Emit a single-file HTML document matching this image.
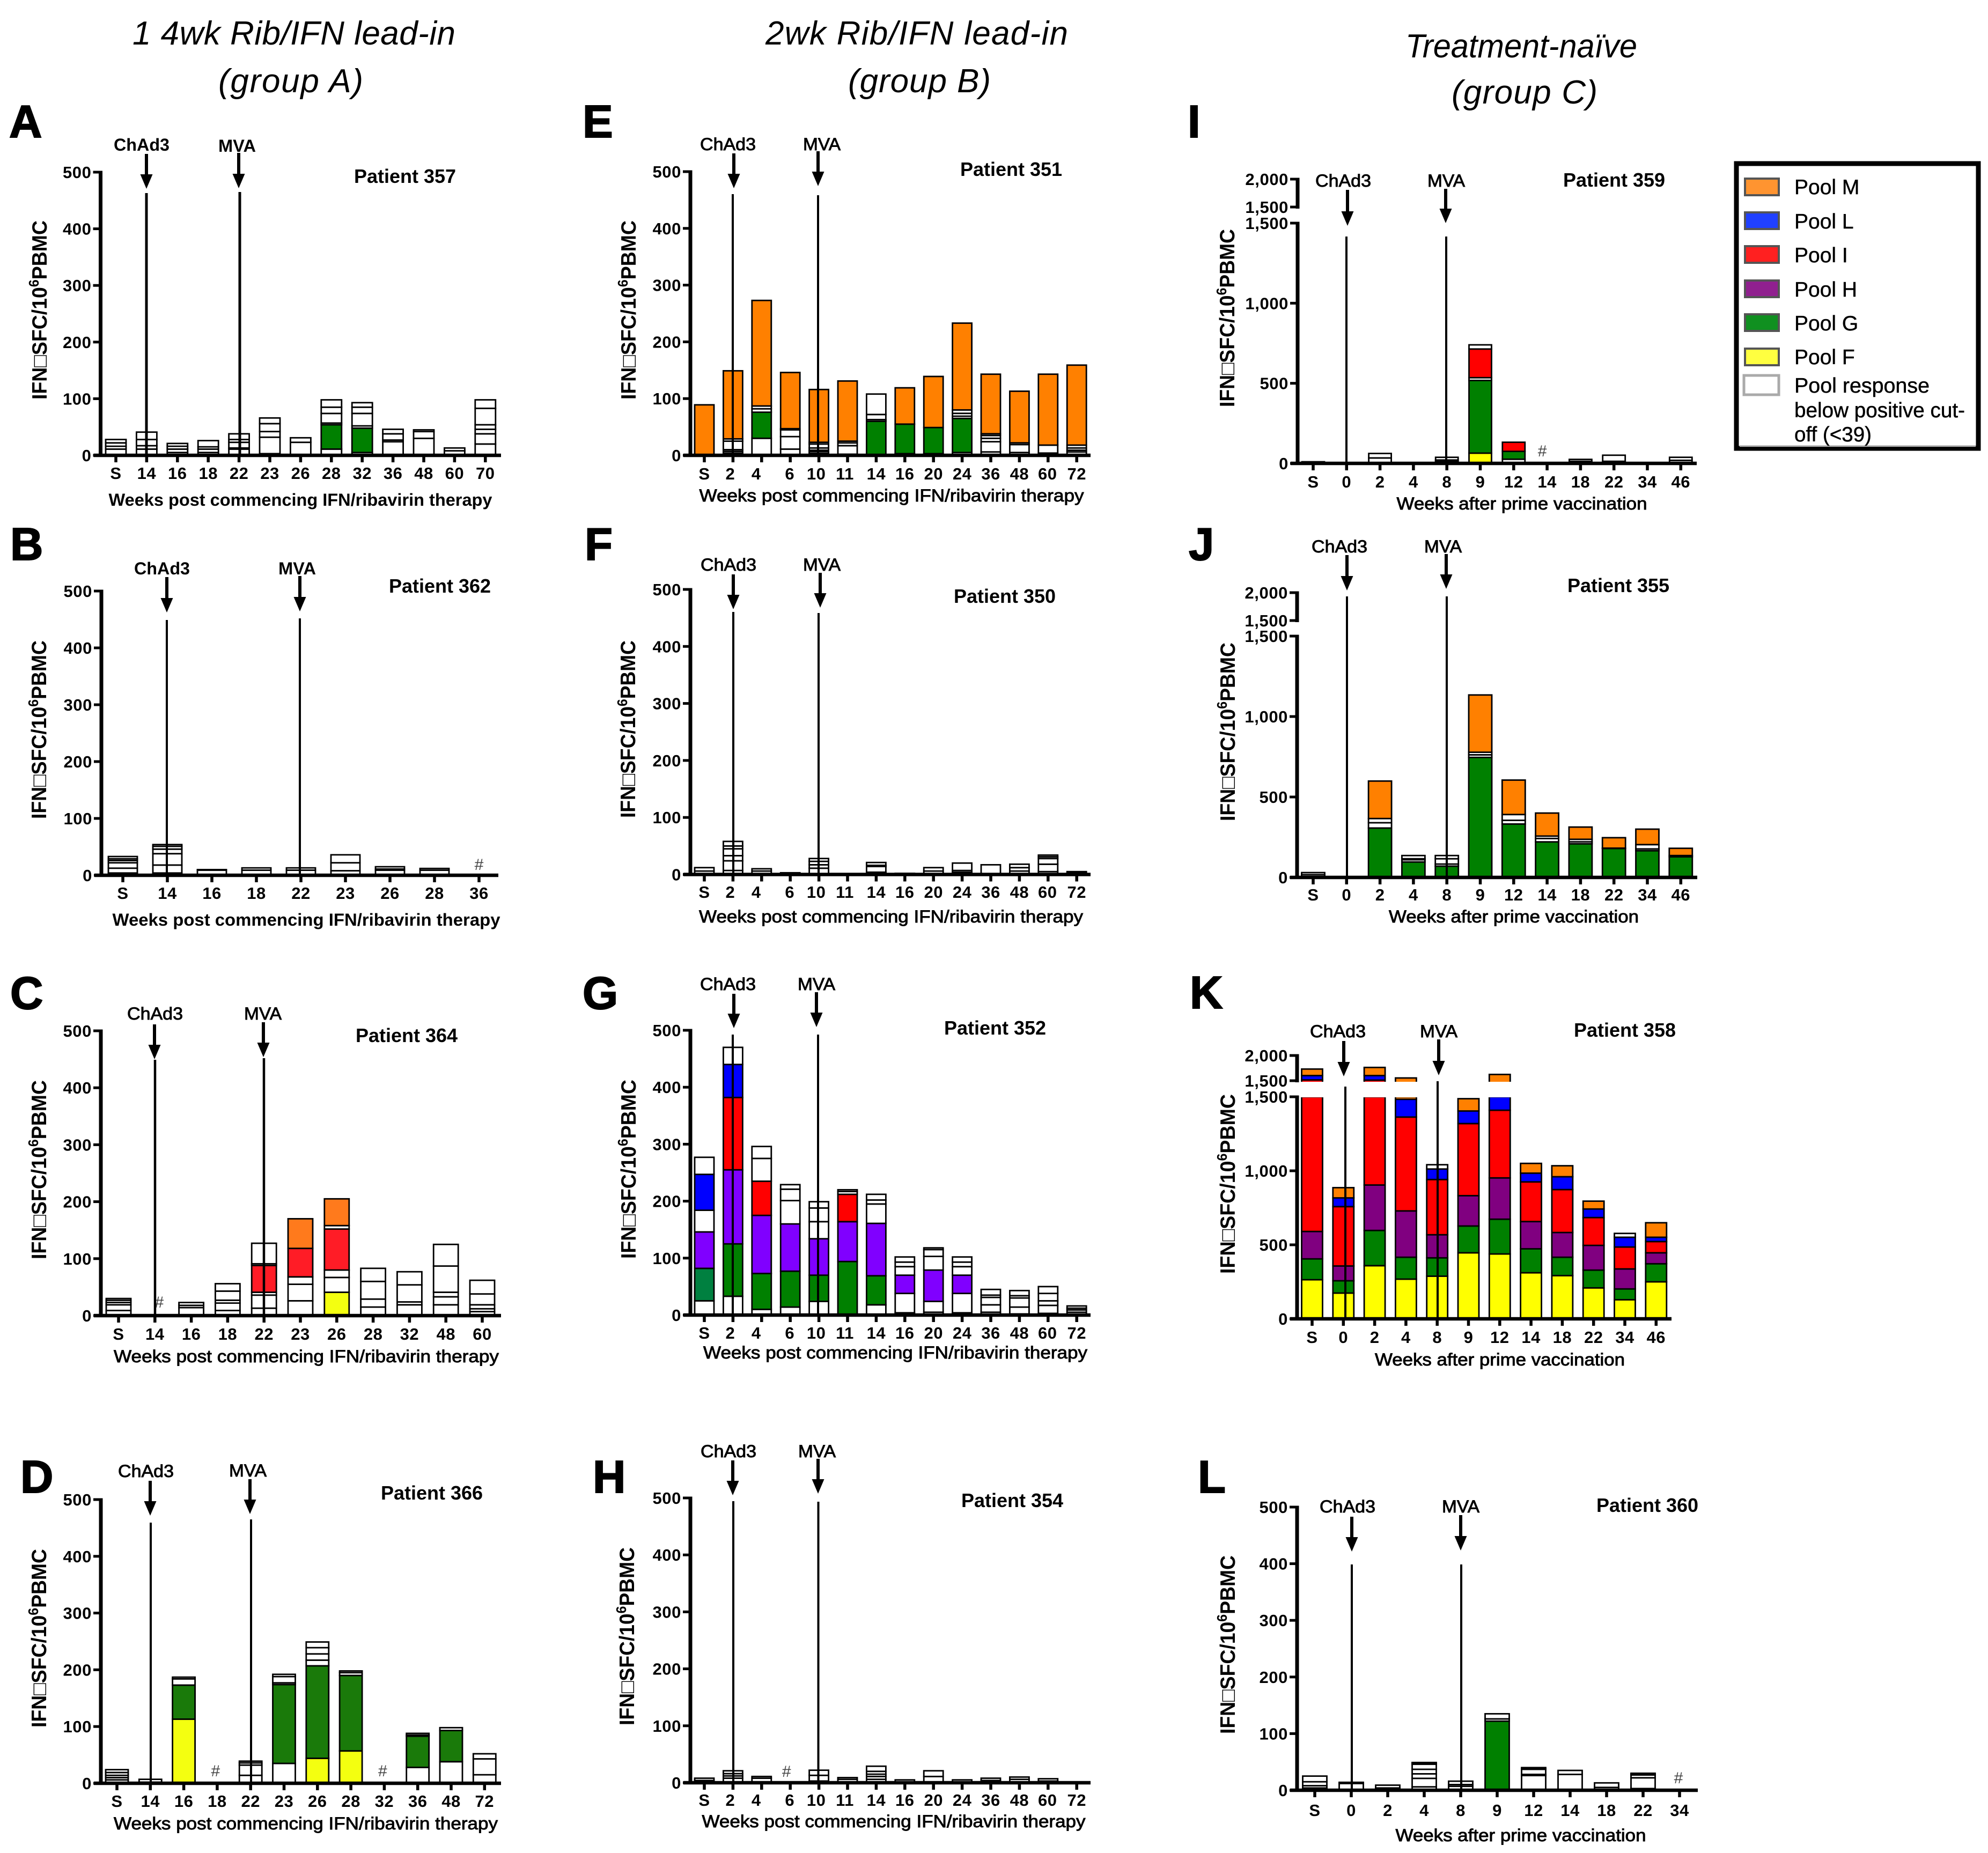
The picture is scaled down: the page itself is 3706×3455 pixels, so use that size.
<!DOCTYPE html>
<html lang="en">
<head>
<meta charset="utf-8">
<title>IFN-gamma SFC responses by patient</title>
<style>
html,body{margin:0;padding:0;background:#fff}
svg{display:block}
text{font-family:"Liberation Sans",Arial,sans-serif;fill:#000}
</style>
</head>
<body>
<svg id="figure" xmlns="http://www.w3.org/2000/svg" width="3706" height="3455" viewBox="0 0 3706 3455">
<rect x="0" y="0" width="3706" height="3455" fill="#fff"/>
<g font-style="italic" font-size="62">
<text x="548" y="83" text-anchor="middle" textLength="602" lengthAdjust="spacing">1 4wk Rib/IFN lead-in</text>
<text x="542" y="172" text-anchor="middle" textLength="270" lengthAdjust="spacing">(group A)</text>
<text x="1709" y="83" text-anchor="middle" textLength="564" lengthAdjust="spacing">2wk Rib/IFN lead-in</text>
<text x="1714" y="172" text-anchor="middle" textLength="266" lengthAdjust="spacing">(group B)</text>
<text x="2836" y="107" text-anchor="middle" textLength="432" lengthAdjust="spacingAndGlyphs">Treatment-naïve</text>
<text x="2842" y="193" text-anchor="middle" textLength="272" lengthAdjust="spacing">(group C)</text>
</g>
<g>
<rect x="3237" y="305" width="451" height="531" fill="#fff" stroke="#000" stroke-width="9"/>
<rect x="3243" y="830" width="440" height="3" fill="#bbb"/>
<g font-size="38" stroke="#555" stroke-width="4">
<rect x="3253" y="333" width="63" height="31" fill="#ff9430"/>
<rect x="3253" y="396" width="63" height="31" fill="#2040ff"/>
<rect x="3253" y="459" width="63" height="31" fill="#ff2020"/>
<rect x="3253" y="523" width="63" height="31" fill="#90208f"/>
<rect x="3253" y="586" width="63" height="31" fill="#109020"/>
<rect x="3253" y="650" width="63" height="31" fill="#ffff40"/>
<rect x="3251" y="700" width="65" height="36" fill="#fff" stroke="#aaa" stroke-width="5"/>
</g>
<g font-size="39" stroke="#000" stroke-width="0.5">
<text x="3345" y="362">Pool M</text>
<text x="3345" y="426">Pool L</text>
<text x="3345" y="489">Pool I</text>
<text x="3345" y="553">Pool H</text>
<text x="3345" y="616">Pool G</text>
<text x="3345" y="679">Pool F</text>
<text x="3345" y="732" textLength="252" lengthAdjust="spacingAndGlyphs">Pool response</text>
<text x="3345" y="778" textLength="318" lengthAdjust="spacingAndGlyphs">below positive cut-</text>
<text x="3345" y="823" textLength="144" lengthAdjust="spacingAndGlyphs">off (&lt;39)</text>
</g>
</g>
</svg>
<script>
/* ---------- chart data: segment heights stacked bottom-up, one pool code per segment ---------- */
const weeksA=["S","14","16","18","22","23","26","28","32","36","48","60","70"];
const heightsA=[[11,5,6,6],[11,6,11,13],[5,6,5,5],[5,6,4,11],[11,2,10,5,10],[3,29,10,14,10],[23,8],[11,43,3,17,11,13],[5,43,4,22,11,8],[24,3,11,8],[30,12,3],[8,5],[20,18,8,8,29,15]];
const poolsA=["wwww","wwww","wwww","wwww","wwwww","wwwww","ww","wGwwww","wGwwww","wwww","www","ww","wwwwww"];
const missingA=[];

const weeksB=["S","14","16","18","22","23","26","28","36"];
const heightsB=[[4,8.5,9.5,4,3,4],[4,14,20,8,5,3],[9,1],[9,4],[9,4],[8,14,14],[9,2,4],[9,3],[]];
const poolsB=["wwwwww","wwwwww","ww","ww","ww","www","www","ww",""];
const missingB=["36"];

const weeksC=["S","14","16","18","22","23","26","28","32","48","60"];
const heightsC=[[9,10,4,4,3],[],[14,4,5],[9,13,5,16,13],[13,23,5,47,3,36],[26,29,13,50,52],[41,26,13,72,6,47],[15,14,31,23],[19,5,30,23],[19,14,8,46,38],[7,5,7,19,24]];
const poolsC=["wwwww","","www","wwwww","wwwRww","wwwRO","YwwRwO","wwww","wwww","wwwww","wwwww"];
const missingC=["14"];

const weeksD=["S","14","16","18","22","23","26","28","32","36","48","72"];
const heightsD=[[6,4,4,5,5],[2,5],[113,60,11,3],[],[14,18,4,3],[35,139,3,11,4],[44,163,10,11,11,10],[57,133,5,3],[],[28,55,2,3],[38,55,5],[15,28,9]];
const poolsD=["wwwww","ww","YDww","","wwww","wDwww","YDwwww","YDww","","wDww","wDw","www"];
const missingD=["18","32"];

const weeksE=["S","2","4","6","10","11","14","16","20","24","36","48","60","72"];
const heightsE=[[89],[4,3,3,15,4,120],[30,46,6,5,186],[11,22,12,2,99],[4,3,2,4,7,3,93],[2,15,5,3,106],[60,3,9,36],[3,52,64],[3,46,90],[5,60,4,5,6,153],[6,18,6,5,3,105],[5,14,3,91],[4,14,125],[6,3,4,5,141]];
const poolsE=["M","wwwwwM","wGwwM","wwwwM","wwwwwwM","wwwwM","Gwww","wGM","wGM","wGwwwM","wwwwwM","wwwM","wwM","wwwwM"];
const missingE=[];

const weeksF=["S","2","4","6","10","11","14","16","20","24","36","48","60","72"];
const heightsF=[[6,6],[7,17,9,12,5,8],[6,4],[3],[11,6,6,5],[],[4,10,2,5],[2],[6,6],[4,3,13],[17],[6,6,6],[5,13,10,3,3],[3,2]];
const poolsF=["ww","wwwwww","ww","w","wwww","","wwww","w","ww","www","w","www","wwwww","ww"];
const missingF=[];

const weeksG=["S","2","4","6","10","11","14","16","20","24","36","48","60","72"];
const heightsG=[[25,57,64,38,63,30],[33,92,130,127,58,30],[10,63,102,60,40,21],[14,63,83,41,20,8],[24,46,64,30,24,11],[94,70,48,5,3],[18,51,92,34,7,10],[4,34,32,15,8,9],[5,19,55,24,12,3],[4,34,32,15,8,9],[5,13,13,4,10],[2,12,16,4,9],[3,14,8,13,12],[5,4,3,4]];
const poolsG=["wTVwLw","wGVILw","wGVIww","wGVwww","wGVwww","GVIww","wGVwww","wwVwww","wwVwww","wwVwww","wwwww","wwwww","wwwww","wwww"];
const missingG=[];

const weeksH=["S","2","4","6","10","11","14","16","20","24","36","48","60","72"];
const heightsH=[[4,4],[8,4,4,5],[8,3],[],[3,10,9],[6,3],[6,5,4,5,9],[5],[11,10],[5],[4,4],[6,4],[3,4],[]];
const poolsH=["ww","wwww","ww","","www","ww","wwwww","w","ww","w","ww","ww","ww",""];
const missingH=["6"];

const weeksI=["S","0","2","4","8","9","12","14","18","22","34","46"];
const heightsI=[[5,5],[],[34,28],[],[15,6,17],[64,454,17,179,26],[26,49,57],[],[13,12],[13,38],[],[19,19]];
const poolsI=["ww","","ww","","www","FGwIw","wGI","","ww","ww","","ww"];
const missingI=["14"];

const weeksJ=["S","0","2","4","8","9","12","14","18","22","34","46"];
const heightsJ=[[17,13],[],[307,33,26,233],[96,14,6,20],[70,13,33,20],[746,16,16,356],[332,23,36,214],[221,21,15,143],[209,12,16,76],[180,2,65],[166,11,27,96],[128,8,45]];
const poolsJ=["ww","","GwwM","Gwww","Gwww","GwwM","GwwM","GwwM","GwwM","GwM","GwwM","GwM"];
const missingJ=[];

const weeksK=["S","0","2","4","8","9","12","14","18","22","34","46"];
const heightsK=[[264,141,185,926,86,129],[174,83,100,401,59,69],[359,238,307,607,91,161],[268,148,313,634,120,71],[288,124,156,373,71,29],[446,181,205,487,85,83],[438,235,279,457,91,124],[311,162,184,268,59,66],[292,124,167,290,87,74],[209,120,167,188,58,53],[129,73,135,148,66,26],[250,122,74,76,29,98]];
const poolsK=["FGHILM","FGHILM","FGHILM","FGHILM","FGHILw","FGHILM","FGHILM","FGHILM","FGHILM","FGHILM","FGHILw","FGHILM"];
const missingK=[];

const weeksL=["S","0","2","4","8","9","12","14","18","22","34"];
const heightsL=[[4,4,7,10],[12,2],[3,1,5],[6,15,8,8,9,1,2],[7,3,6],[122,4,9],[26,2,9,1,2],[28,7],[5,8],[3,19,5,1,2],[]];
const poolsL=["wwww","ww","www","wwwwwMw","www","Gww","wwwMw","ww","ww","wwwMw",""];
const missingL=["34"];

const ticksStandard=[0,100,200,300,400,500];
const ticksLowerBroken=[0,500,1000,1500];
const ticksUpperBroken=[1500,2000];
const weeksTitleTreated="Weeks post commencing IFN/ribavirin therapy";
const weeksTitleNaive="Weeks after prime vaccination";

/* ---------- colour key for the pool codes ---------- */
const poolFill={w:"#ffffff",F:"#ffff00",G:"#008000",H:"#800080",I:"#ff0000",L:"#0000ff",M:"#ff8000",
  V:"#8000ff",T:"#008040",R:"#ff1c26",O:"#ff7a1c",D:"#1a7a0a",Y:"#f4ff10"};

/* ---------- panel layout (pixels) ---------- */
const nudgeLeadB=[0,-5,-10,-1,-5,-5,0,0,0,0,0,0,-1,0];
const panels=[
 {id:"A",patient:"357",heavy:true,weeks:weeksA,heights:heightsA,pools:poolsA,missing:missingA,ax:187.5,y0:849,yTop:321,first:216,step:57.4,end:934,bw:38,lab:893,title:weeksTitleTreated,tx:560,ty:943,tw:715,
  c:[264,281,273,287,352,273,360],m:[442,283,445,285,351,447,358],px:755,py:341,lx:17,ly:256,yb:87,ys:411,ye:745,lw:5},
 {id:"B",patient:"362",heavy:true,weeks:weeksB,heights:heightsB,pools:poolsB,missing:missingB,ax:189,y0:1632,yTop:1102,first:229,step:83,end:929,bw:54,lab:1676,title:weeksTitleTreated,tx:571,ty:1726,tw:723,hashDx:0,hashY:1622,
  c:[302,1071,311,1076,1142,311,1156],m:[554,1071,559,1074,1140,559,1153],px:820,py:1105,lx:19,ly:1044,yb:86,ys:1194,ye:1527,lw:4},
 {id:"C",patient:"364",weeks:weeksC,heights:heightsC,pools:poolsC,missing:missingC,ax:188,y0:2453,yTop:1922,first:221,step:67.8,end:934,bw:46,lab:2498,title:weeksTitleTreated,tx:571,ty:2540,tw:718,hashDx:8,hashY:2438,
  c:[289,1901,288,1910,1975,289,1976],m:[490,1901,491,1906,1971,492,1973],px:758,py:1943,lx:19,ly:1881,yb:86,ys:2014,ye:2348,lw:4.5},
 {id:"D",patient:"366",weeks:weeksD,heights:heightsD,pools:poolsD,missing:missingD,ax:188,y0:3325,yTop:2796,first:218,step:62.3,end:934,bw:42,lab:3369,title:weeksTitleTreated,tx:570,ty:3411,tw:716,hashDx:-3,hashY:3312,
  c:[272,2754,280,2761,2826,281,2839],m:[462,2753,466,2758,2823,468,2833],px:805,py:2796,lx:38,ly:2783,yb:86,ys:2888,ye:3221,lw:4},
 {id:"E",patient:"351",weeks:weeksE,heights:heightsE,pools:poolsE,missing:missingE,ax:1287,y0:849,yTop:320,first:1313,step:53.4,end:2033,bw:36,lab:894,title:weeksTitleTreated,tx:1662,ty:935,tw:717,nudge:nudgeLeadB,
  c:[1357,280,1368,286,351,1366,362],m:[1532,280,1525,282,347,1525,364],px:1885,py:328,lx:1086,ly:256,yb:1185,ys:411,ye:745,lw:4},
 {id:"F",patient:"350",weeks:weeksF,heights:heightsF,pools:poolsF,missing:missingF,ax:1287,y0:1630.5,yTop:1099,first:1313,step:53.4,end:2033,bw:36,lab:1674,title:weeksTitleTreated,tx:1661,ty:1720,tw:716,nudge:nudgeLeadB,
  c:[1358,1064,1367,1071,1136,1367,1141],m:[1532,1064,1529,1068,1133,1526,1143],px:1873,py:1124,lx:1090,ly:1044,yb:1184,ys:1194,ye:1525,lw:4},
 {id:"G",patient:"352",weeks:weeksG,heights:heightsG,pools:poolsG,missing:missingG,ax:1287,y0:2452,yTop:1921,first:1313,step:53.4,end:2033,bw:36,lab:2496,title:weeksTitleTreated,tx:1669,ty:2533,tw:716,nudge:nudgeLeadB,
  c:[1357,1846,1368,1853,1917,1366,1929],m:[1522,1846,1522,1850,1915,1525,1929],px:1855,py:1929,lx:1086,ly:1881,yb:1185,ys:2013,ye:2347,lw:4},
 {id:"H",patient:"354",weeks:weeksH,heights:heightsH,pools:poolsH,missing:missingH,ax:1287,y0:3324,yTop:2793,first:1313,step:53.4,end:2033,bw:36,lab:3367,title:weeksTitleTreated,tx:1666,ty:3407,tw:715,nudge:nudgeLeadB,hashDx:-7,hashY:3313,
  c:[1358,2717,1366,2723,2788,1367,2799],m:[1523,2717,1525,2720,2785,1525.5,2800],px:1887,py:2810,lx:1105,ly:2783,yb:1182,ys:2885,ye:3217,lw:4},
 {id:"I",patient:"359",weeks:weeksI,heights:heightsI,pools:poolsI,missing:missingI,ax:2419,y0:864,y1500:416,y1500u:386,y2000:334,first:2448,step:62.3,end:3163,bw:42,lab:909,title:weeksTitleNaive,tx:2837,ty:950,tw:467,hashDx:-9,hashY:851,
  c:[2504,348,2512,354,421,2510,441],m:[2696,348,2695,352,416,2696,441],px:3009,py:348,lx:2214,ly:256,yb:2301,ys:427,ye:759,lw:4},
 {id:"J",patient:"355",weeks:weeksJ,heights:heightsJ,pools:poolsJ,missing:missingJ,ax:2418,y0:1636,y1500:1186,y1500u:1157,y2000:1105,first:2448,step:62.3,end:3164,bw:43,lab:1679,title:weeksTitleNaive,tx:2822,ty:1720,tw:466,
  c:[2497,1030,2511,1035,1101,2511,1112],m:[2690,1030,2696,1033,1098,2697,1112],px:3017,py:1104,lx:2216,ly:1044,yb:2302,ys:1198,ye:1531,lw:4},
 {id:"K",patient:"358",weeks:weeksK,heights:heightsK,pools:poolsK,missing:missingK,ax:2418,y0:2459,y1500:2045,y1500u:2015,y2000:1968,first:2446,step:58.3,end:3116,bw:39,lab:2504,title:weeksTitleNaive,tx:2796,ty:2546,tw:466,
  c:[2494,1934,2505,1941,2007,2508,2026],m:[2682,1934,2682,1938,2005,2680,2016],px:3029,py:1933,lx:2218,ly:1880,yb:2302,ys:2040,ye:2375,lw:4},
 {id:"L",patient:"360",weeks:weeksL,heights:heightsL,pools:poolsL,missing:missingL,ax:2418,y0:3338,yTop:2810,first:2451,step:68,end:3165,bw:45,lab:3386,title:weeksTitleNaive,tx:2835,ty:3433,tw:467,hashDx:-2,hashY:3325,
  c:[2512,2820,2520,2828,2893,2520,2917],m:[2723,2820,2723,2825,2891,2724,2917],px:3071,py:2819,lx:2233,ly:2783,yb:2302,ys:2900,ye:3233,lw:4}
];

/* ---------- axis functions ---------- */
function yScale(p,v){
  if(p.y1500===undefined){return p.y0-v/500*(p.y0-p.yTop);}
  if(v<=1500){return p.y0-v/1500*(p.y0-p.y1500);}
  return p.y1500u-(v-1500)/500*(p.y1500u-p.y2000);
}
function xScale(p,i){return p.first+i*p.step;}

const NS="http://www.w3.org/2000/svg";
const svg=document.getElementById("figure");
function make(tag,parent,attrs){
  const node=document.createElementNS(NS,tag);
  for(const k in attrs){node.setAttribute(k,attrs[k]);}
  parent.appendChild(node);
  return node;
}
/* medium-weight text style: regular glyphs thickened, bold when the panel is printed heavier */
function textWeight(p){
  return p.heavy?{"font-weight":"bold"}:{"stroke":"#000","stroke-width":0.9};
}

function drawSegment(group,p,x,bottom,top,code,w){
  const ya=yScale(p,top),yb=yScale(p,bottom);
  const seg=make("rect",group,{x:x-w/2,y:ya,width:w,height:Math.max(yb-ya,0.5),fill:poolFill[code]||"#fff",stroke:"#000","stroke-width":2.8});
  
  
}

function drawVaccination(group,p,spec,label,slug){
  const [lc,lb,ax,at,atip,vx,vt]=spec;
  const t=make("text",group,Object.assign({x:lc,y:lb,"text-anchor":"middle","font-size":32,textLength:label==="MVA"?70:104,lengthAdjust:"spacingAndGlyphs"},textWeight(p)));
  t.textContent=label;
  
  
  const shaft=make("rect",group,{x:ax-3,y:at,width:6,height:atip-at-20,fill:"#000"});
  
  
  const head=make("polygon",group,{points:(ax-11.5)+","+(atip-27)+" "+(ax+11.5)+","+(atip-27)+" "+ax+","+atip,fill:"#000"});
  
  
  const line=make("line",group,{x1:vx,x2:vx,y1:vt,y2:p.y0,stroke:"#000","stroke-width":p.lw});
  
  
}

function drawPanel(p){
  const g=make("g",svg,{});
  
  

  const letter=make("text",g,{x:p.lx,y:p.ly,"font-size":85,"font-weight":"bold",stroke:"#000","stroke-width":2});
  letter.textContent=p.id;
  
  

  const bars=make("g",g,{});
  
  
  p.weeks.forEach(function(week,i){
    let cum=0;
    const x=xScale(p,i);
    p.heights[i].forEach(function(h,j){
      const code=p.pools[i][j];
      const bottom=cum,top=cum+h;
      if(p.y1500!==undefined&&bottom<1500&&top>1500){
        drawSegment(bars,p,x,bottom,1500,code,p.bw);
        drawSegment(bars,p,x,1500,top,code,p.bw);
      }else{
        drawSegment(bars,p,x,bottom,top,code,p.bw);
      }
      cum=top;
    });
  });

  if(p.y1500!==undefined){
    const gap=make("rect",g,{x:p.ax+4,y:p.y1500u+2,width:p.end-p.ax-4,height:p.y1500-p.y1500u-1,fill:"#fff"});
    
    
  }

  p.missing.forEach(function(week){
    const h=make("text",g,{x:xScale(p,p.weeks.indexOf(week))+(p.hashDx||0),y:p.hashY,"text-anchor":"middle","font-size":30,style:"fill:#444"});
    h.textContent="#";
    
    
  });

  drawVaccination(g,p,p.c,"ChAd3","chad3");
  drawVaccination(g,p,p.m,"MVA","mva");

  const axisParts=[];
  if(p.y1500===undefined){
    axisParts.push([p.y0,p.yTop]);
  }else{
    axisParts.push([p.y0,p.y1500]);
    axisParts.push([p.y1500u,p.y2000]);
  }
  axisParts.forEach(function(a){
    const yl=make("line",g,{x1:p.ax,x2:p.ax,y1:a[0]+3,y2:a[1]-2.5,stroke:"#000","stroke-width":7});
    
    
  });
  const xl=make("line",g,{x1:p.ax-13,x2:p.end,y1:p.y0,y2:p.y0,stroke:"#000","stroke-width":6.5});
  
  

  function yTick(v,pos){
    const tk=make("line",g,{x1:p.ax-14,x2:p.ax,y1:pos,y2:pos,stroke:"#000","stroke-width":5});
    
    
    const tl=make("text",g,{x:p.ax-17,y:pos+11,"text-anchor":"end","font-size":31,"font-weight":"bold","letter-spacing":0.6});
    tl.textContent=v>=1000?String(v).replace(/(\d)(\d{3})$/,"$1,$2"):String(v);
    
    
  }
  if(p.y1500===undefined){
    ticksStandard.forEach(function(v){yTick(v,yScale(p,v));});
  }else{
    ticksLowerBroken.forEach(function(v){yTick(v,yScale(p,v));});
    ticksUpperBroken.forEach(function(v){yTick(v,v===1500?p.y1500u:yScale(p,v));});
  }

  p.weeks.forEach(function(week,i){
    const x=xScale(p,i);
    const tk=make("line",g,{x1:x,x2:x,y1:p.y0,y2:p.y0+13,stroke:"#000","stroke-width":5.5});
    
    
    const tl=make("text",g,{x:x+(p.nudge?p.nudge[i]:0),y:p.lab,"text-anchor":"middle","font-size":31,"font-weight":"bold","letter-spacing":0.5});
    tl.textContent=week;
    
    
  });

  const xt=make("text",g,Object.assign({x:p.tx,y:p.ty,"text-anchor":"middle","font-size":32,textLength:p.tw,lengthAdjust:"spacingAndGlyphs"},textWeight(p)));
  xt.textContent=p.title;
  
  

  const cy=(p.ys+p.ye)/2;
  const yt=make("text",g,{x:p.yb,y:cy,transform:"rotate(-90 "+p.yb+" "+cy+")","text-anchor":"middle","font-size":39,"font-weight":"bold",textLength:p.ye-p.ys,lengthAdjust:"spacingAndGlyphs"});
  
  
  const s1=make("tspan",yt,{});
  s1.textContent="IFN\u25A1SFC/10";
  const s2=make("tspan",yt,{dy:-15,"font-size":26});
  s2.textContent="6";
  const s3=make("tspan",yt,{dy:15});
  s3.textContent="PBMC";

  const pt=make("text",g,{x:p.px,y:p.py,"text-anchor":"middle","font-size":36,"font-weight":"bold"});
  pt.textContent="Patient "+p.patient;
  
  
}

panels.forEach(drawPanel);
</script>
</body>
</html>
